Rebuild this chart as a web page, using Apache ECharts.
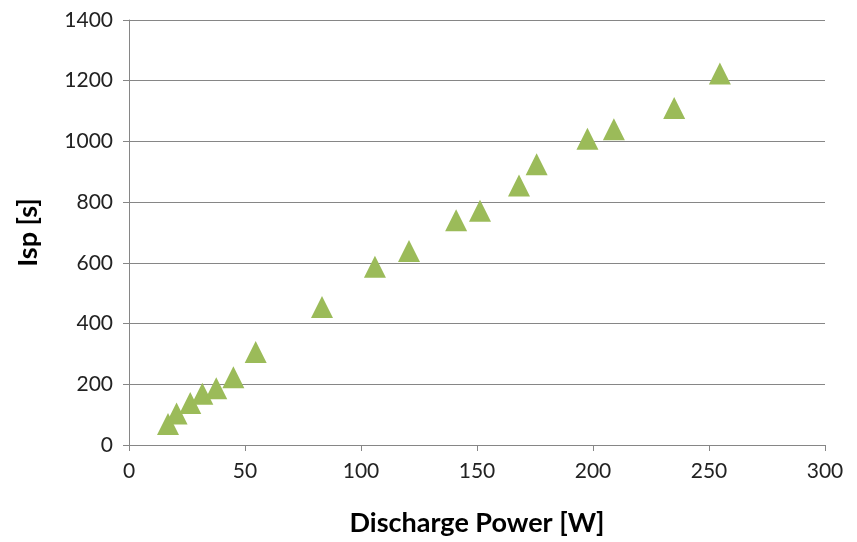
<!DOCTYPE html>
<html>
<head>
<meta charset="utf-8">
<script src="https://cdn.jsdelivr.net/npm/echarts@6/dist/echarts.min.js"></script>
<style>
  html, body { margin: 0; padding: 0; background: #fff; }
  #chart { width: 857px; height: 542px; }
</style>
</head>
<body>
<div id="chart"></div>
<script>
// discharge power [W] and specific impulse [s]
const power = [16.8, 20.5, 26.4, 31.6, 37.6, 45, 54.6, 83.2, 106, 120.7, 141, 151.3, 168.1, 175.7, 197.6, 209, 235, 254.7];
const isp = [69, 104, 138, 169, 187, 223, 306, 455, 587, 639, 740, 772, 855, 925, 1009, 1040, 1110, 1224];

const points = power.map((p, i) => [p, isp[i]]);

const font = 'Lato, "Open Sans", sans-serif';
const gray = '#868686';

const myChart = echarts.init(document.getElementById('chart'));

const option = {
  animation: false,
  grid: {
    left: 129,
    right: 32,
    top: 20,
    bottom: 97
  },
  xAxis: {
    type: 'value',
    min: 0,
    max: 300,
    interval: 50,
    name: 'Discharge Power [W]',
    nameLocation: 'middle',
    nameGap: 65,
    nameTextStyle: { fontFamily: font, fontSize: 27, fontWeight: 'bold', color: '#000' },
    axisLine: { show: true, lineStyle: { color: gray, width: 1 } },
    axisTick: { show: true, length: 6, lineStyle: { color: gray } },
    axisLabel: { fontFamily: font, fontSize: 21, color: '#222', margin: 16, formatter: v => String(v) },
    splitLine: { show: false }
  },
  yAxis: {
    type: 'value',
    min: 0,
    max: 1400,
    interval: 200,
    name: 'Isp [s]',
    nameLocation: 'middle',
    nameGap: 87,
    nameTextStyle: { fontFamily: font, fontSize: 27, fontWeight: 'bold', color: '#000' },
    axisLine: { show: true, lineStyle: { color: gray, width: 1 } },
    axisTick: { show: true, length: 6, lineStyle: { color: gray } },
    axisLabel: { fontFamily: font, fontSize: 21, color: '#222', margin: 16, formatter: v => String(v) },
    splitLine: { show: true, lineStyle: { color: gray, width: 1 } }
  },
  series: [
    {
      type: 'scatter',
      data: points,
      symbol: 'triangle',
      symbolSize: [22, 22],
      itemStyle: { color: '#9BBB59', opacity: 1 }
    }
  ]
};

myChart.setOption(option);
</script>
</body>
</html>
